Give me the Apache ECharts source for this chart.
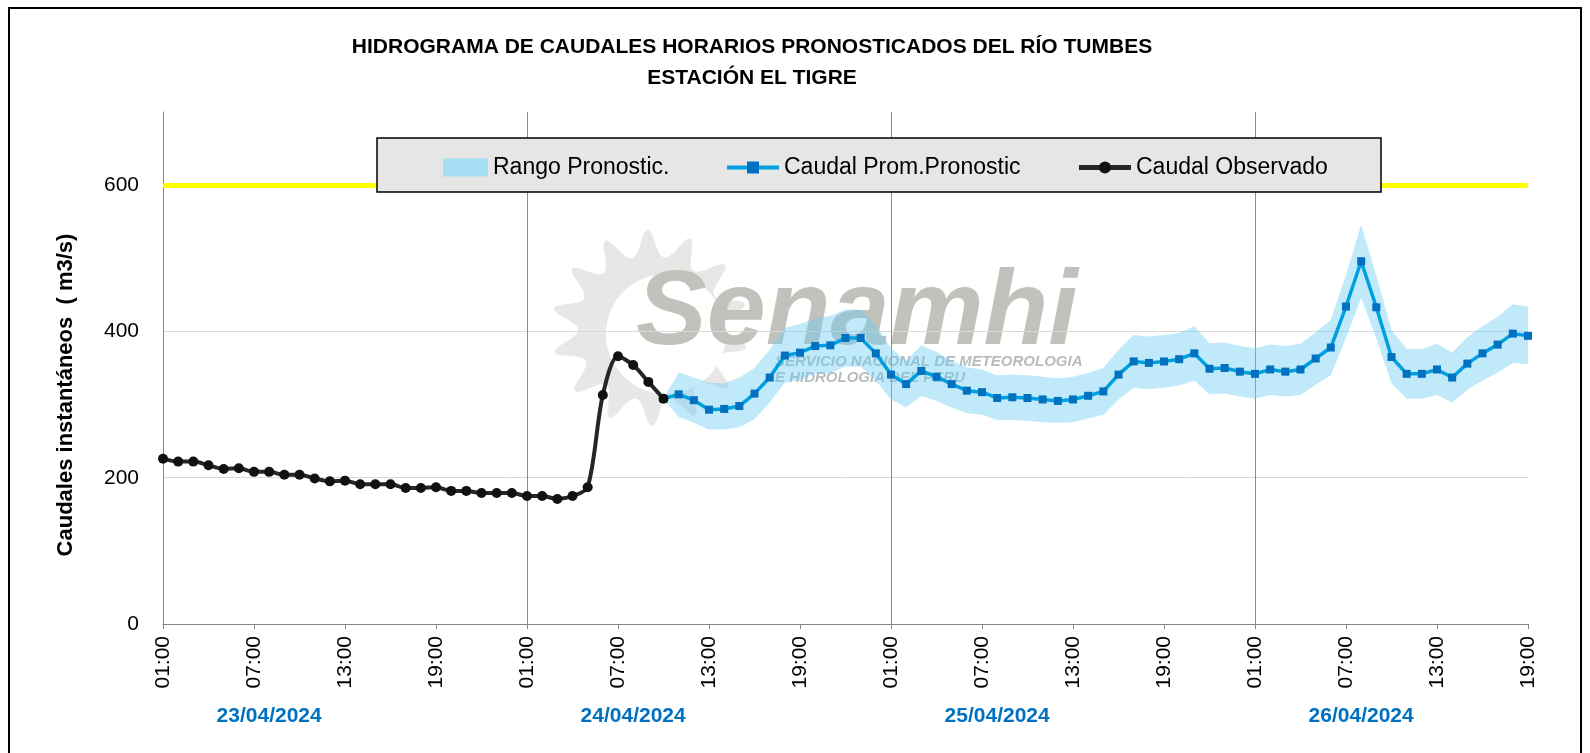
<!DOCTYPE html>
<html>
<head>
<meta charset="utf-8">
<script src="https://cdn.jsdelivr.net/npm/echarts@6/dist/echarts.min.js"></script>
<style>html,body{margin:0;padding:0;background:#fff}#c{width:1590px;height:753px}</style>
</head>
<body>
<div id="c"></div>
<script>
// ---- data ----
const dates = ['23/04/2024', '24/04/2024', '25/04/2024', '26/04/2024'];
const firstHour = 1;          // first category is 01:00 of 23/04/2024
const nHours = 91;            // 23/04 01:00 .. 26/04 19:00
const yTicks = [0, 200, 400, 600];
const threshold = 600;

const observed = [226,222,222,217,212,213,208,208,204,204,199,195,196,191,191,191,186,186,187,182,182,179,179,179,175,175,171,175,187,313,366,354,331,308];
const forecastStart = 33;
const forecast = [308,314,306,293,294,298,315,337,367,371,380,381,391,391,370,341,328,346,338,328,319,317,309,310,309,307,305,307,312,318,341,359,357,359,362,370,349,350,345,342,348,345,348,363,378,434,496,433,365,342,342,348,337,356,370,382,397,394];
const forecastLow = [308,283,275,266,266,269,280,303,330,334,342,343,352,352,333,307,296,312,305,296,288,286,279,279,278,276,275,276,281,286,307,323,321,323,326,333,314,315,311,308,313,311,313,327,340,391,446,390,329,308,308,313,303,320,333,344,357,355];
const forecastHigh = [308,344,337,330,329,337,350,375,405,410,418,421,430,430,409,377,360,381,372,360,351,348,340,341,340,338,336,338,343,350,375,395,393,395,398,407,384,385,380,377,382,380,383,399,416,477,546,476,402,376,376,383,371,392,407,420,437,434];

// ---- build categories / padded series ----
const cats = [], dayOf = [];
for (let i = 0; i < nHours; i++) {
  const h = (firstHour + i) % 24;
  cats.push((h < 10 ? '0' : '') + h + ':00');
  dayOf.push(dates[Math.floor((firstHour + i) / 24)]);
}
const pad = (arr, start) => { const o = new Array(nHours).fill('-'); arr.forEach((v, k) => o[start + k] = v); return o; };
const obsData = pad(observed, 0);
const fcData = pad(forecast, forecastStart);
const lowData = pad(forecastLow, forecastStart);
const diffData = pad(forecastHigh.map((v, k) => v - forecastLow[k]), forecastStart);

// sun shape for the watermark
const sunPts = [];
const sc = [650, 328];
for (let k = 0; k < 28; k++) {
  const a = k * Math.PI / 14 + 0.2;
  const r = (k % 2 === 0) ? 98 : 72;
  sunPts.push([sc[0] + r * Math.cos(a), sc[1] + r * Math.sin(a)]);
}

const FONT = "'Liberation Sans', Arial, sans-serif";
const chart = echarts.init(document.getElementById('c'), null, { renderer: 'canvas' });
chart.setOption({
  animation: false,
  backgroundColor: '#fff',
  grid: { left: 163, right: 62, top: 112, bottom: 129, containLabel: false },
  graphic: [
    { type: 'rect', z: 0, shape: { x: 9, y: 8, width: 1572, height: 770 }, style: { fill: 'none', stroke: '#000', lineWidth: 2 } },
    { type: 'polygon', z: 0, shape: { points: sunPts, smooth: 0.4 }, style: { fill: '#e8e7e5' } },
    { type: 'circle', z: 0, shape: { cx: 666, cy: 334, r: 60 }, style: { fill: '#fff' } },
    { type: 'text', z: 0, x: 636, y: 368, style: { text: 'Senamhi', font: "italic bold 106px 'Liberation Sans', Arial", fill: '#c3c1bc', textVerticalAlign: 'bottom' } },
    { type: 'text', z: 0, x: 775, y: 362, style: { text: 'SERVICIO NACIONAL DE METEOROLOGIA', font: "italic bold 15px 'Liberation Sans', Arial", fill: '#b7bbc0', textVerticalAlign: 'middle' } },
    { type: 'text', z: 0, x: 775, y: 378, style: { text: 'E HIDROLOGIA DEL PERU', font: "italic bold 15px 'Liberation Sans', Arial", fill: '#b7bbc0', textVerticalAlign: 'middle' } },
    { type: 'text', z: 5, x: 752, y: 47, style: { text: 'HIDROGRAMA DE CAUDALES HORARIOS PRONOSTICADOS DEL RÍO TUMBES', font: "bold 21px 'Liberation Sans', Arial", fill: '#000', textAlign: 'center', textVerticalAlign: 'middle' } },
    { type: 'text', z: 5, x: 752, y: 78, style: { text: 'ESTACIÓN EL TIGRE', font: "bold 21px 'Liberation Sans', Arial", fill: '#000', textAlign: 'center', textVerticalAlign: 'middle' } },
    { type: 'text', z: 5, x: 66, y: 395, rotation: Math.PI / 2, style: { text: 'Caudales instantáneos  ( m3/s)', font: "bold 22px 'Liberation Sans', Arial", fill: '#000', textAlign: 'center', textVerticalAlign: 'middle' } },
    { type: 'rect', z: 8, shape: { x: 377, y: 138, width: 1004, height: 54 }, style: { fill: '#e6e6e6', stroke: '#000', lineWidth: 1.5 } }
  ],
  legend: [
    {
      z: 9, left: 438, top: 151, itemWidth: 45, itemHeight: 18,
      textStyle: { fontFamily: FONT, fontSize: 23, color: '#000' },
      data: [{ name: 'Rango Pronostic.', icon: 'rect' }]
    },
    {
      z: 9, left: 720, top: 151, itemWidth: 52, itemHeight: 15, itemGap: 56,
      textStyle: { fontFamily: FONT, fontSize: 23, color: '#000' },
      data: [
        { name: 'Caudal Prom.Pronostic', lineStyle: { width: 4 } },
        { name: 'Caudal Observado', lineStyle: { width: 5 } }
      ]
    }
  ],
  xAxis: [
    {
      type: 'category', data: cats, boundaryGap: false, z: 1,
      axisLine: { lineStyle: { color: '#868686', width: 1 } },
      axisTick: { interval: 5, length: 5, lineStyle: { color: '#868686' } },
      axisLabel: { interval: 5, rotate: 90, margin: 12, fontFamily: FONT, fontSize: 21, color: '#000' },
      splitLine: { show: true, interval: (i) => i % 24 === 0, lineStyle: { color: '#8c8c8c', width: 1 } }
    },
    {
      type: 'category', data: dayOf, boundaryGap: false, position: 'bottom', offset: 74,
      axisLine: { show: false }, axisTick: { show: false }, splitLine: { show: false },
      axisLabel: { interval: (i) => i % 24 === 7, margin: 8, fontFamily: FONT, fontWeight: 'bold', fontSize: 21, color: '#0070C0' }
    }
  ],
  yAxis: {
    type: 'value', min: 0, max: 700, interval: 200, z: 1,
    axisLine: { show: true, lineStyle: { color: '#868686' } },
    axisTick: { show: false },
    axisLabel: { showMaxLabel: false, margin: 24, fontFamily: FONT, fontSize: 21, color: '#000',
      formatter: (v) => yTicks.includes(v) ? String(v) : '' },
    splitLine: { show: true, showMaxLine: false, lineStyle: { color: '#d9d9d9', width: 1 } }
  },
  series: [
    { name: 'bandLow', type: 'line', stack: 'band', data: lowData, symbol: 'none', lineStyle: { opacity: 0 }, silent: true, z: 2 },
    { name: 'Rango Pronostic.', type: 'line', stack: 'band', data: diffData, symbol: 'none',
      color: '#a6def3', lineStyle: { opacity: 0 }, areaStyle: { color: 'rgba(104,206,242,0.6)' }, silent: true, z: 2 },
    { name: 'Caudal Prom.Pronostic', type: 'line', data: fcData, color: '#00a0e0',
      lineStyle: { color: '#00a0e0', width: 3.5 }, symbol: 'rect', symbolSize: 8,
      itemStyle: { color: '#0070c0' }, z: 3,
      markLine: { silent: true, symbol: 'none', label: { show: false },
        lineStyle: { color: '#ffff00', width: 5, type: 'solid' }, data: [{ yAxis: threshold }] } },
    { name: 'Caudal Observado', type: 'line', data: obsData, color: '#262626', smooth: 0.3,
      lineStyle: { color: '#262626', width: 4 }, symbol: 'circle', symbolSize: 10,
      itemStyle: { color: '#111' }, z: 4 }
  ]
});
</script>
</body>
</html>
